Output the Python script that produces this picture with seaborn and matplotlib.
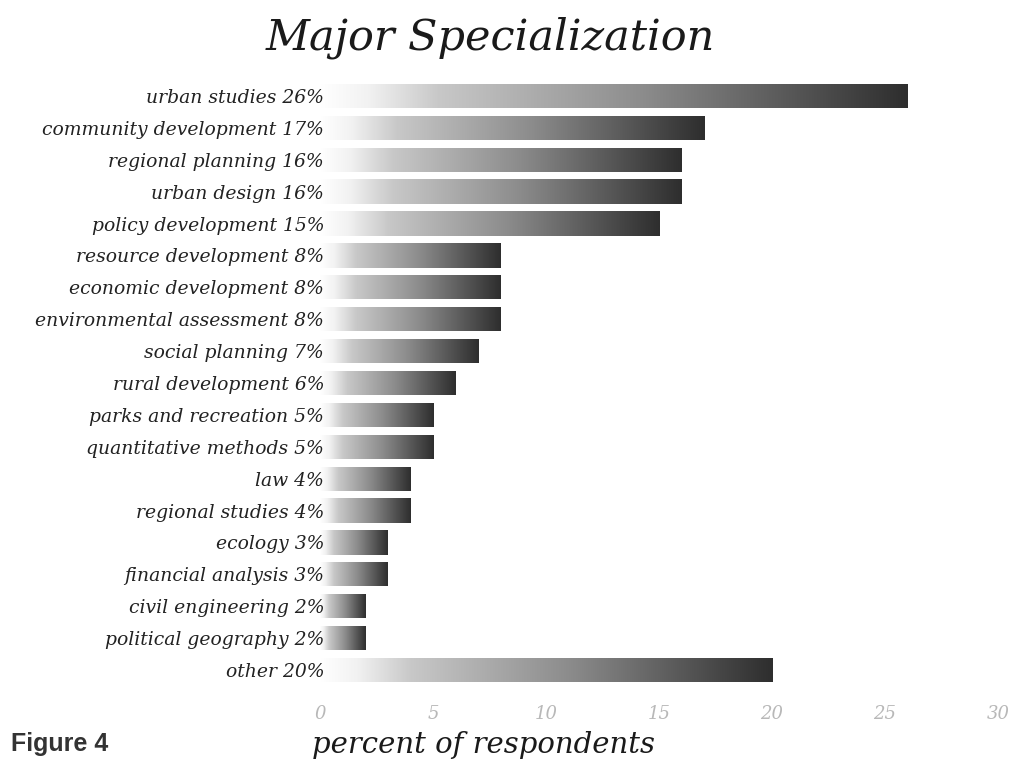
import numpy as np
import pandas as pd
import matplotlib
matplotlib.use("Agg")
import matplotlib.pyplot as plt
import seaborn as sns
from matplotlib.colors import LinearSegmentedColormap

categories = [
    "urban studies", "community development", "regional planning", "urban design",
    "policy development", "resource development", "economic development",
    "environmental assessment", "social planning", "rural development",
    "parks and recreation", "quantitative methods", "law", "regional studies",
    "ecology", "financial analysis", "civil engineering", "political geography", "other",
]
percents = [26, 17, 16, 16, 15, 8, 8, 8, 7, 6, 5, 5, 4, 4, 3, 3, 2, 2, 20]
x_ticks = [0, 5, 10, 15, 20, 25, 30]

labels = [f"{c} {p}%" for c, p in zip(categories, percents)]
df = pd.DataFrame({"label": labels, "percent": percents})

sns.set_theme(style="white")
plt.rcParams["font.family"] = ["DejaVu Serif"]

fig = plt.figure(figsize=(10.23, 7.61), dpi=100)
ax = fig.add_axes([0.3128, 0.0986, 0.6628, 0.7963])

sns.barplot(data=df, x="percent", y="label", orient="h", width=0.76,
            color="white", edgecolor="none", ax=ax)

# fill each bar with a white-to-charcoal gradient along its length
shade = LinearSegmentedColormap.from_list(
    "shade",
    [(0.0, "#ffffff"), (0.08, "#f2f2f2"), (0.2, "#c8c8c8"),
     (0.55, "#8c8c8c"), (1.0, "#2e2e2e")])
grad = np.linspace(0, 1, 256).reshape(1, -1)
for patch in ax.patches:
    x0, y0 = patch.get_x(), patch.get_y()
    w, h = patch.get_width(), patch.get_height()
    im = ax.imshow(grad, cmap=shade, aspect="auto", interpolation="bilinear",
                   extent=[x0, x0 + w, y0 + h, y0], zorder=2)
    im.set_clip_path(patch)

# category labels sit on top of the pale start of each bar
ax.set_axisbelow(False)
ax.set_xlim(0, 30)
ax.set_ylim(len(labels) - 0.5, -0.5)
ax.set_xticks(x_ticks)
ax.set_xticklabels([str(t) for t in x_ticks], color="#b8b8b8", fontsize=13,
                   style="italic")
ax.tick_params(axis="x", length=0, pad=14)
ax.tick_params(axis="y", length=0, pad=-3)
for t in ax.get_yticklabels():
    t.set_fontsize(13.5)
    t.set_style("italic")
    t.set_color("#222222")
for s in ax.spines.values():
    s.set_visible(False)
ax.set_ylabel("")
ax.set_xlabel("percent of respondents", fontsize=21, style="italic",
              color="#1a1a1a")
ax.xaxis.set_label_coords(-0.012, -0.075)
ax.xaxis.label.set_horizontalalignment("left")

fig.text(0.479, 0.95, "Major Specialization", ha="center", va="center",
         fontsize=31, style="italic", color="#1a1a1a")
fig.text(0.011, 0.006, "Figure 4", ha="left", va="bottom", fontsize=18,
         fontweight="bold", color="#333333",
         family=["Liberation Sans", "DejaVu Sans"])

fig.savefig("out.png", dpi=100, facecolor="white")
